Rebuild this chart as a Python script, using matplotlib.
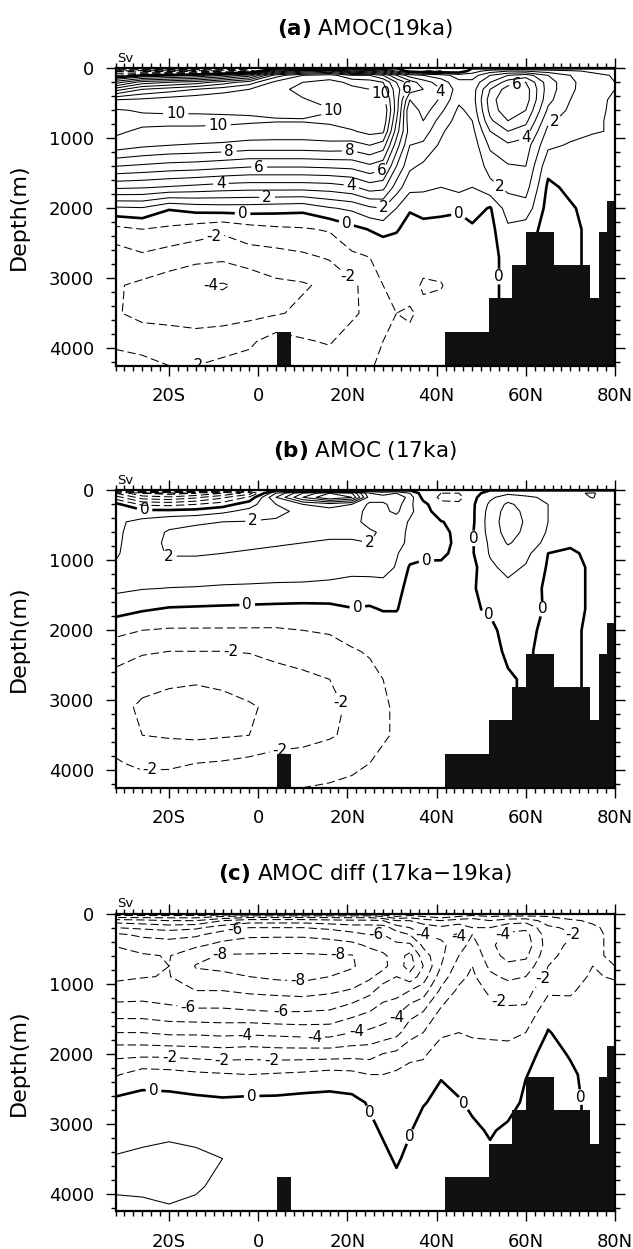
import numpy as np
import matplotlib
matplotlib.use("Agg")
import matplotlib.pyplot as plt
from matplotlib.ticker import MultipleLocator, FixedLocator, FixedFormatter

plt.rcParams["font.family"] = ["DejaVu Sans"]
plt.rcParams["lines.dashed_pattern"] = [6.0, 2.8]
plt.rcParams["lines.scale_dashes"] = False

# ── Grid (latitude, depth in m) ───────────────────────────────────────
LAT = [-32, -26, -20, -14, -8, -2, 4, 10, 16, 21, 25, 28, 31, 34, 37,
       41, 45, 48, 52, 56, 60, 65, 70, 75, 80]
DEPTH = [0, 40, 100, 200, 300, 450, 600, 750, 900, 1100, 1400, 1700,
         2000, 2300, 2700, 3100, 3500, 3900, 4250]

# ── Streamfunction (Sv), one row per depth ────────────────────────────
AMOC_19KA = [
    [0, 0, 0, 0, 0, 0, 0, 0, 0, 0, 0, 0, 0, 0, 0, 0, 0, 0, 0, 0, 0, 0, 0, 0, 0],
    [-3, -4, -4.5, -4, -3, -2, 3, 5, 6, 3, 4, 3, 1, -0.5, -1, -1, -0.8, 0.5, 1.5, 2, 2, 1.5, 1.2, 0.8, 0.5],
    [-1, 0, 0.5, 1, 2, 3.5, 7.5, 9, 9.5, 8, 8, 7, 5, 3.5, 3, 2.5, 1.5, 1.5, 3, 4, 4.5, 3, 2, 1.3, 0.9],
    [2.5, 4.5, 5, 5.5, 6.5, 7.5, 9.3, 10, 10.3, 9.8, 9.5, 9, 7, 5.5, 4.5, 3.5, 2.3, 2.3, 4, 5.5, 6, 3.5, 2.2, 1.4, 1.0],
    [5.5, 7, 7.5, 8, 8.5, 9, 9.8, 10.2, 10.5, 10.2, 10, 9.5, 7.5, 5.5, 5, 4, 2.5, 2.5, 5, 6.5, 6.5, 3.5, 2.2, 1.3, 1.0],
    [9.0, 9.2, 9.5, 9.7, 9.9, 9.9, 9.95, 9.95, 10.2, 10.3, 10.6, 10.5, 7.5, 4, 5, 3.8, 2.2, 2.5, 5.5, 7.0, 6.5, 3.3, 2.0, 1.2, 0.9],
    [10.1, 9.9, 9.9, 9.9, 9.9, 9.9, 9.85, 9.8, 9.95, 10.3, 10.8, 11, 7.5, 3, 4.5, 3.2, 1.8, 2.3, 5.3, 6.8, 6, 2.8, 1.8, 1.15, 0.9],
    [10.4, 10.3, 10.2, 10.2, 10.15, 10.1, 10.05, 10.05, 10.15, 10.5, 10.7, 10.8, 7, 3.2, 4, 2.6, 1.6, 2.0, 4.8, 6, 5.3, 2.2, 1.6, 1.1, 0.9],
    [10.2, 9.8, 9.8, 9.8, 9.8, 9.7, 9.6, 9.6, 9.7, 9.9, 10.3, 10.2, 6.5, 3.5, 3.5, 2.2, 1.2, 1.7, 4.0, 5, 4.5, 1.7, 1.3, 1.05, 0.95],
    [9.6, 9.2, 9.0, 8.9, 8.8, 8.6, 8.6, 8.6, 8.7, 8.6, 9.0, 8.5, 5.5, 3, 2.8, 1.8, 1.0, 1.4, 3.2, 3.8, 3.5, 1.2, 0.9, 0.8, 0.8],
    [7.0, 6.8, 6.6, 6.5, 6.3, 6.1, 6.1, 6.1, 6.2, 6.3, 6.8, 6.4, 4, 2.2, 1.8, 1.5, 1.1, 1.2, 2.4, 2.9, 3.0, 0.3, 0.5, 0.6, 0.5],
    [4.2, 4.1, 3.9, 3.7, 3.5, 3.4, 3.4, 3.4, 3.5, 3.8, 4.5, 4.3, 2.5, 1.3, 1.2, 1.0, 1.3, 1.0, 1.7, 2.2, 2.4, -0.2, 0.2, 0.4, 0.3],
    [0.8, 0.9, 0.1, 0.4, 0.5, 0.5, 0.4, 0.3, 0.9, 1.2, 1.8, 2.0, 1.0, 0.1, 0.3, 0.2, 0.1, 0.5, -0.1, 1.5, 1.6, -0.4, -0.1, 0.3, 0.2],
    [-1.3, -1.0, -1.2, -1.5, -1.8, -1.4, -1.2, -1.1, -0.9, -0.3, 0.05, 0.3, 0.1, -0.4, -0.3, -0.3, -0.3, -0.2, -0.3, 0.8, 0.5, -0.4, -0.2, 0.2, 0.1],
    [-2.6, -2.2, -2.5, -2.7, -2.8, -2.5, -2.4, -2.2, -1.9, -1.2, -1.0, -0.8, -0.7, -0.6, -0.7, -0.6, -0.5, -0.4, -0.3, 0.3, 0.1, -0.3, -0.1, 0.1, 0.1],
    [-2.9, -3.2, -3.5, -3.9, -4.1, -3.7, -3.2, -3.1, -2.8, -2.2, -1.6, -1.0, -0.8, -0.7, -1.1, -1.05, -0.6, -0.5, -0.1, 0.1, 0.1, -0.2, -0.1, 0.1, 0.1],
    [-2.9, -3.3, -3.3, -3.6, -3.5, -3.3, -3.1, -2.8, -2.7, -2.2, -1.7, -1.0, -1.0, -1.1, -0.8, -0.7, -0.6, -0.5, -0.1, 0.1, 0.1, -0.2, -0.1, 0.1, 0.1],
    [-2.2, -2.4, -2.6, -2.5, -2.4, -2.2, -1.5, -1.9, -2.1, -1.5, -1.3, -1.0, -0.9, -0.8, -0.6, -0.6, -0.5, -0.5, -0.3, 0.1, 0.1, -0.2, -0.1, 0.1, 0.1],
    [-1.6, -1.7, -2.0, -2.0, -1.8, -1.6, -1.0, -1.3, -1.5, -1.0, -1.1, -0.8, -0.8, -0.6, -0.5, -0.5, -0.5, -0.5, -0.3, 0.1, 0.1, -0.2, -0.1, 0.1, 0.1],
]

AMOC_17KA = [
    [0, 0, 0, 0, 0, 0, 0, 0, 0, 0, 0, 0, 0, 0, 0, 0, 0, 0, 0, 0, 0, 0, 0, 0, 0],
    [-3, -5, -5.5, -5, -4, -2.5, 2, 5, 7, 6, 2, 1.5, 2, 1, -0.5, -1, -1, -0.5, 0.5, 0.8, 0.6, 0.5, 0.8, 1.1, 0.3],
    [-1.5, -3.5, -3.8, -3.2, -2.2, -0.8, 3, 6, 8, 7, 2.5, 2.5, 3, 1.5, -0.3, -1.2, -1.3, -0.3, 0.8, 1.5, 1.2, 0.8, 0.6, 1.05, 0.3],
    [0.3, -1.2, -1.3, -1.0, -0.5, 0.6, 2, 3, 3.5, 3, 1.8, 1.8, 2.5, 1.2, 0.3, -0.8, -0.8, -0.2, 1.2, 2.2, 1.6, 1.0, 0.5, 0.6, 0.3],
    [0.6, 0.3, 0.3, 0.4, 0.8, 1.3, 1.8, 2.2, 2.5, 2.3, 1.8, 1.8, 2.2, 1.2, 0.5, -0.6, -0.5, -0.2, 1.4, 2.4, 1.8, 1.0, 0.4, 0.4, 0.2],
    [0.8, 1.3, 1.7, 1.9, 2.0, 2.05, 2.1, 2.1, 2.3, 2.2, 1.8, 1.7, 1.5, 0.9, 0.5, 0.05, -0.3, -0.2, 1.5, 2.5, 1.9, 1.0, 0.3, 0.3, 0.2],
    [0.8, 1.5, 2.1, 2.2, 2.3, 2.3, 2.2, 2.15, 2.2, 2.2, 2.1, 1.9, 1.4, 0.8, 0.5, 0.3, -0.3, -0.1, 1.4, 2.4, 1.8, 0.9, 0.2, 0.2, 0.1],
    [0.85, 1.5, 2.2, 2.3, 2.3, 2.2, 2.1, 2.0, 1.9, 1.9, 2.0, 1.9, 1.3, 0.8, 0.6, 0.4, -0.3, -0.1, 1.2, 2.1, 1.6, 0.7, 0.1, 0.15, 0.1],
    [0.9, 1.5, 2.1, 2.1, 2.0, 1.9, 1.8, 1.7, 1.6, 1.6, 1.8, 2.0, 1.1, 0.4, 0.2, 0.2, -0.3, -0.1, 1.1, 1.6, 1.3, 0.0, -0.1, 0.15, 0.1],
    [1.1, 1.3, 1.6, 1.6, 1.5, 1.45, 1.4, 1.35, 1.3, 1.3, 1.4, 1.5, 0.9, -0.1, -0.2, -0.2, -0.4, -0.3, 0.8, 1.3, 0.9, -0.1, -0.2, 0.1, 0.1],
    [1.2, 1.05, 0.98, 0.95, 0.9, 0.88, 0.85, 0.85, 0.8, 0.6, 0.5, 0.5, 0.3, -0.3, -0.4, -0.4, -0.4, -0.1, 0.4, 0.7, 0.5, -0.2, -0.2, 0.1, 0.1],
    [0.4, 0.1, -0.1, -0.15, -0.2, -0.25, -0.3, -0.35, -0.3, -0.05, -0.1, 0.05, 0.05, -0.4, -0.5, -0.5, -0.5, -0.1, 0.1, 0.4, 0.3, -0.1, -0.2, 0.1, 0.1],
    [-0.7, -1.0, -1.1, -1.1, -1.1, -1.1, -1.1, -1.0, -0.9, -0.6, -0.6, -0.5, -0.5, -0.6, -0.6, -0.6, -0.6, -0.5, -0.2, 0.3, 0.2, -0.2, -0.1, 0.1, 0.1],
    [-1.6, -1.9, -2.0, -2.0, -2.0, -1.95, -1.8, -1.6, -1.4, -1.1, -0.9, -0.7, -0.7, -0.7, -0.6, -0.6, -0.6, -0.5, -0.3, 0.15, 0.1, -0.2, -0.1, 0.1, 0.1],
    [-2.3, -2.6, -2.8, -2.9, -2.8, -2.6, -2.3, -2.2, -2.0, -1.6, -1.3, -1.0, -0.8, -0.7, -0.6, -0.6, -0.6, -0.5, -0.3, -0.1, 0.1, -0.2, -0.1, 0.1, 0.1],
    [-2.6, -3.2, -3.4, -3.4, -3.3, -3.1, -2.8, -2.6, -2.3, -1.8, -1.5, -1.1, -0.9, -0.8, -0.7, -0.6, -0.6, -0.5, -0.3, -0.1, 0.1, -0.2, -0.1, 0.1, 0.1],
    [-2.4, -3.0, -3.1, -3.2, -3.1, -3.0, -2.6, -2.3, -2.1, -1.8, -1.4, -1.1, -0.9, -0.8, -0.7, -0.6, -0.6, -0.5, -0.3, -0.1, 0.1, -0.2, -0.1, 0.1, 0.1],
    [-1.9, -2.2, -2.2, -2.0, -1.9, -1.7, -1.5, -1.6, -1.4, -1.2, -1.0, -0.8, -0.7, -0.6, -0.6, -0.5, -0.5, -0.5, -0.3, -0.1, 0.1, -0.2, -0.1, 0.1, 0.1],
    [-1.3, -1.5, -1.4, -1.3, -1.2, -1.1, -1.0, -1.0, -0.9, -0.8, -0.7, -0.6, -0.6, -0.5, -0.5, -0.5, -0.5, -0.5, -0.3, -0.1, 0.1, -0.2, -0.1, 0.1, 0.1],
]

AMOC_DIFF = [
    [0, 0, 0, 0, 0, 0, 0, 0, 0, 0, 0, 0, 0, 0, 0, 0, 0, 0, 0, 0, 0, 0, 0, 0, 0],
    [-1.5, -1.5, -1.5, -1.5, -2, -2.5, -2.5, -2.5, -2.5, -2.5, -2.5, -2, -1, -1.5, -1, -0.5, -1, -1.5, -1, -1.2, -1.2, -1, -0.5, -0.5, -0.2],
    [-3.5, -3.3, -3, -3, -4, -4.5, -4.5, -4.5, -4.3, -4.2, -4.2, -4, -3, -3, -2.5, -2, -2.5, -2.5, -2, -2.5, -2.6, -1.5, -1.2, -0.8, -0.4],
    [-5, -4.8, -4.6, -4.8, -5.5, -6, -6, -6, -5.8, -5.5, -5.5, -5.5, -4.5, -4, -3.5, -3.2, -3.5, -3, -3, -3.6, -3.8, -2.2, -1.8, -1.2, -0.6],
    [-6.2, -5.8, -5.6, -5.8, -6.5, -6.8, -6.8, -6.8, -6.6, -6.3, -6.0, -6, -5.5, -5, -4, -3.8, -4.1, -3, -3.6, -4.2, -4.3, -2.5, -2.1, -1.3, -0.7],
    [-6.95, -6.6, -6.5, -6.8, -7.3, -7.5, -7.6, -7.6, -7.5, -7.3, -6.8, -6.5, -6.2, -6.2, -4.8, -4.2, -3.5, -2.6, -3.8, -4.5, -4.6, -2.5, -1.8, -1.2, -0.8],
    [-7.3, -7.1, -6.95, -7.7, -8.1, -8.1, -8.1, -8.1, -8.05, -8.05, -7.5, -7.2, -6.5, -7.3, -5.5, -4.2, -3, -2.2, -3.6, -4.3, -4.2, -2.3, -1.6, -1.1, -0.9],
    [-7.4, -7.2, -7.0, -8.05, -8.2, -8.3, -8.3, -8.3, -8.2, -8.1, -7.6, -7.3, -6.4, -7.5, -6, -4, -2.6, -2, -3.2, -3.8, -3.6, -2.0, -1.4, -1.0, -1.0],
    [-7.2, -7.05, -6.95, -7.8, -7.8, -8.0, -8.2, -8.3, -8.0, -7.7, -7.2, -6.5, -6.0, -6.6, -5.5, -3.5, -2.3, -1.8, -2.8, -3.2, -3.0, -1.8, -1.3, -0.9, -1.1],
    [-6.6, -6.5, -6.6, -7.0, -7.0, -7.2, -7.3, -7.4, -7.2, -6.9, -6.3, -5.5, -5.4, -5.0, -4.5, -2.8, -1.8, -1.5, -2.2, -2.5, -2.4, -1.2, -1.1, -0.7, -0.7],
    [-5.5, -5.5, -5.7, -5.8, -5.8, -5.9, -6.0, -6.0, -5.9, -5.4, -5.0, -4.6, -4.3, -3.4, -3.0, -1.8, -1.3, -1.2, -1.6, -1.8, -1.8, -0.3, -0.7, -0.5, -0.5],
    [-4.0, -4.0, -4.2, -4.2, -4.3, -4.2, -4.3, -4.4, -4.4, -4.0, -3.8, -3.6, -3.3, -2.4, -2.0, -1.2, -1.0, -1.1, -1.2, -1.2, -1.0, 0.05, -0.3, -0.4, -0.3],
    [-2.3, -2.3, -2.3, -2.4, -2.5, -2.4, -2.5, -2.5, -2.5, -2.4, -2.4, -2.0, -1.8, -1.3, -1.2, -0.4, -0.6, -0.7, -0.6, -0.7, -0.2, 0.2, -0.05, -0.3, -0.2],
    [-1.1, -0.5, -0.6, -0.8, -0.9, -1.0, -0.9, -0.8, -0.6, -0.7, -1.0, -1.0, -0.8, -0.6, -0.5, -0.05, -0.2, -0.3, -0.3, -0.3, -0.02, 0.2, 0.1, -0.2, -0.2],
    [0.3, 0.4, 0.4, 0.3, 0.2, 0.3, 0.3, 0.4, 0.4, 0.3, -0.1, -0.5, -0.5, -0.3, -0.05, 0.2, 0.05, -0.1, -0.2, -0.2, 0.1, 0.2, 0.1, -0.1, -0.2],
    [0.7, 0.7, 0.8, 0.7, 0.6, 0.5, 0.6, 0.6, 0.6, 0.5, 0.2, -0.1, -0.3, -0.05, 0.3, 0.3, 0.2, 0.1, -0.05, 0.1, 0.1, 0.2, 0.1, -0.1, -0.2],
    [1.05, 1.2, 1.3, 1.2, 1.0, 0.6, 0.6, 0.6, 0.6, 0.5, 0.4, 0.2, -0.1, 0.2, 0.3, 0.3, 0.3, 0.2, 0.1, 0.1, 0.1, 0.2, 0.1, -0.1, -0.2],
    [1.1, 1.15, 1.25, 1.1, 0.8, 0.6, 0.5, 0.5, 0.5, 0.4, 0.3, 0.3, 0.2, 0.2, 0.3, 0.3, 0.3, 0.2, 0.1, 0.1, 0.1, 0.2, 0.1, -0.1, -0.2],
    [0.8, 0.8, 0.9, 0.8, 0.6, 0.5, 0.4, 0.4, 0.4, 0.3, 0.3, 0.3, 0.2, 0.2, 0.2, 0.2, 0.2, 0.2, 0.1, 0.1, 0.1, 0.2, 0.1, -0.1, -0.2],
]

# ── Bathymetry (step edges in latitude, top depth of each step) ──────
RIDGE_LAT = [4.1, 7.3]
RIDGE_DEPTH = [3770, 3770]
SHELF_LAT = [41.8, 51.8, 56.8, 60.0, 66.4, 74.5, 76.4, 78.2, 80.0]
SHELF_DEPTH = [3770, 3286, 2810, 2333, 2810, 3286, 2333, 1895, 1895]

XTICKS = [-20, 0, 20, 40, 60, 80]
XTICK_LABELS = ["20S", "0", "20N", "40N", "60N", "80N"]
YTICKS = [0, 1000, 2000, 3000, 4000]

# where the line labels sit (lat, depth), as in the original figure
LABELS_A = [(-3.5, 2071), (20, 2167), (47.2, 1833), (53.6, 2976),
            (2, 1833), (28, 1976), (55.9, 1548), (66.2, 738),
            (-8.4, 1619), (21, 1619), (40.4, 330), (60.4, 1000),
            (0.2, 1405), (27.8, 1476), (33.6, 283), (58, 214),
            (-6.6, 1167), (20.5, 1190), (27.8, 310),
            (-18.5, 667), (-9, 800), (18.7, 452),
            (-10, 2406), (21.8, 2857), (-16.3, 4050), (-11.2, 3192)]
LABELS_B = [(-25.5, 286), (-2.5, 1571), (22.3, 1714), (37.7, 952),
            (48.9, 686), (53.3, 1643), (64.9, 1690),
            (-1.1, 452), (-20.6, 1000), (27.8, 1024),
            (-6.2, 2310), (17.3, 3070), (4.7, 3595), (-24.3, 3810)]
LABELS_C = [(-23.4, 2414), (-1.5, 2533), (25.9, 2819), (33.6, 3176),
            (46.3, 2700), (72.6, 2619),
            (-19.8, 1962), (-8, 1962), (3, 1950), (12.6, 1900),
            (71.7, 319), (63, 890), (54.9, 1129),
            (-3, 1629), (21.9, 1600), (31.8, 1557), (36.8, 319), (45.4, 343),
            (54.9, 295), (-15.7, 1295), (5.1, 1310), (-5.3, 224), (26.4, 295),
            (-8.4, 652), (17.8, 629), (8.8, 967)]

PANELS = [
    (AMOC_19KA, r"$\mathbf{(a)}$ AMOC(19ka)", [-4, -2, 0, 2, 4, 6, 8, 10], LABELS_A),
    (AMOC_17KA, r"$\mathbf{(b)}$ AMOC (17ka)", [-2, 0, 2], LABELS_B),
    (AMOC_DIFF, r"$\mathbf{(c)}$ AMOC diff (17ka−19ka)", [-8, -6, -4, -2, 0], LABELS_C),
]


def line_style(levels):
    styles = ["dashed" if l < 0 else "solid" for l in levels]
    widths = [1.9 if l == 0 else 0.75 for l in levels]
    return styles, widths


# ── Figure ────────────────────────────────────────────────────────────
fig = plt.figure(figsize=(6.33, 12.49), dpi=100)
bottoms = [0.7072, 0.3693, 0.0304]
BOT = 4250

for (field, title, lab_levels, lab_pos), y0 in zip(PANELS, bottoms):
    ax = fig.add_axes([0.1825, y0, 0.789, 0.2381])
    z = np.array(field, dtype=float)

    plain = [l for l in range(-12, 13) if l not in lab_levels]
    st, lw = line_style(plain)
    ax.contour(LAT, DEPTH, z, levels=plain, colors="k",
               linewidths=lw, linestyles=st)

    st, lw = line_style(lab_levels)
    cs = ax.contour(LAT, DEPTH, z, levels=lab_levels, colors="k",
                    linewidths=lw, linestyles=st)
    labels = ax.clabel(cs, inline=True, fmt="%d", fontsize=11,
                       inline_spacing=3, manual=lab_pos)
    for t in labels:
        t.set_rotation(0)

    # bathymetry
    ax.fill_between(RIDGE_LAT, RIDGE_DEPTH, BOT, step="post",
                    color="#111111", linewidth=0, zorder=5)
    ax.fill_between(SHELF_LAT, SHELF_DEPTH, BOT, step="post",
                    color="#111111", linewidth=0, zorder=5)

    ax.set_xlim(-32, 80)
    ax.set_ylim(BOT, 0)

    ax.xaxis.set_major_locator(FixedLocator(XTICKS))
    ax.xaxis.set_major_formatter(FixedFormatter(XTICK_LABELS))
    ax.xaxis.set_minor_locator(MultipleLocator(2))
    ax.yaxis.set_major_locator(FixedLocator(YTICKS))
    ax.yaxis.set_minor_locator(MultipleLocator(200))
    ax.tick_params(which="both", direction="out", top=True, right=True,
                   width=1.0, labelsize=13, pad=8)
    ax.tick_params(which="major", length=7.5)
    ax.tick_params(which="minor", length=3.6)
    for sp in ax.spines.values():
        sp.set_linewidth(1.6)
        sp.set_zorder(6)

    ax.text(0.003, 1.012, "Sv", transform=ax.transAxes, ha="left",
            va="bottom", fontsize=9.5)
    ax.text(0.5, 1.135, title, transform=ax.transAxes, ha="center",
            va="center", fontsize=15.5)

    fig.text(19 / 633, y0 + 0.2381 / 2, "Depth(m)", rotation=90,
             ha="center", va="center", fontsize=16)

fig.savefig("out.png", dpi=100)
